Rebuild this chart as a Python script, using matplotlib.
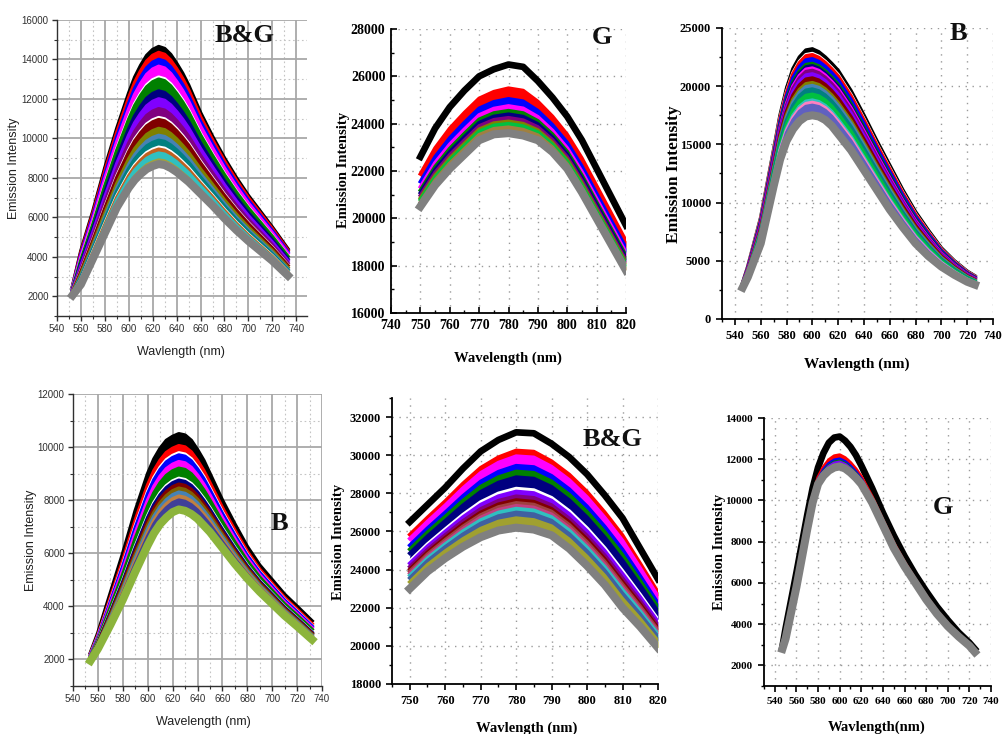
import numpy as np
import matplotlib
matplotlib.use("Agg")
import matplotlib.pyplot as plt

W, H = 1005, 734

# ---- panel 1 : B&G (top left) ----
wl1 = [553, 560, 570, 580, 590, 600, 605, 610, 615, 620, 625, 630, 635, 640, 645, 650, 660, 670, 680, 690, 700, 710, 720, 733]
top1 = [2500, 4300, 6300, 8500, 10500, 12300, 13100, 13700, 14200, 14500, 14650, 14550, 14250, 13800, 13300, 12700, 11300, 10100, 9000, 8000, 7100, 6300, 5500, 4400]
bot1 = [2050, 2600, 3900, 5200, 6500, 7500, 7900, 8200, 8450, 8600, 8700, 8650, 8500, 8300, 8050, 7800, 7200, 6600, 5950, 5350, 4800, 4300, 3800, 3050]
peaks1 = [14650, 14350, 14000, 13650, 13100, 13000, 12400, 12000, 11500, 11050, 10950, 10500, 10150, 9900, 9550, 9450, 9250, 8900, 8700]
colors1 = ['black', 'red', 'blue', 'magenta', 'white', 'green', 'navy', '#8000ff', '#800080', 'white',
           '#800000', '#808000', '#4682b4', '#008080', 'white', '#c06020', '#30c0c0', '#a0a040', 'gray']

# ---- panel 2 : G (top middle) ----
wl2 = [750, 755, 760, 765, 770, 775, 780, 785, 790, 795, 800, 805, 810, 815, 820]
top2 = [22600, 23800, 24700, 25400, 26000, 26300, 26500, 26400, 25800, 25100, 24300, 23300, 22100, 20900, 19700]
bot2 = [20500, 21400, 22100, 22700, 23300, 23550, 23600, 23500, 23300, 22800, 22100, 21100, 20000, 18900, 17800]
peaks2 = [26500, 25500, 25050, 24750, 24550, 24400, 24250, 24100, 24000, 23850, 23600]
colors2 = ['black', 'red', 'blue', 'magenta', '#008000', 'navy', '#800080', '#808000', '#00c040', '#a08040', 'gray']

# ---- panel 3 : B (top right) ----
wl3 = [546, 550, 560, 570, 575, 580, 585, 590, 595, 600, 605, 610, 615, 620, 630, 640, 650, 660, 670, 680, 690, 700, 710, 720, 726]
top3 = [3100, 4500, 8700, 14500, 17500, 19800, 21500, 22500, 23100, 23200, 22950, 22500, 21950, 21350, 19600, 17500, 15300, 13200, 11100, 9200, 7600, 6100, 5000, 4100, 3700]
bot3 = [2700, 3600, 6500, 11400, 13700, 15300, 16300, 17000, 17400, 17500, 17400, 17100, 16600, 15900, 14500, 12800, 11100, 9400, 7900, 6500, 5400, 4500, 3800, 3200, 2950]
peaks3 = [23200, 22800, 22700, 22350, 21950, 21750, 21550, 21350, 21050, 20700, 20300, 20050, 19750, 19300, 18800, 18600, 18350, 17500]
colors3 = ['black', 'white', 'red', 'blue', '#008000', 'navy', 'magenta', '#800080', '#8000ff', '#800000',
           '#808000', '#4682b4', '#008080', '#00c040', '#30c0c0', '#ff80c0', '#6060c0', 'gray']

# ---- panel 4 : B (bottom left) ----
wl4 = [554, 560, 570, 580, 590, 600, 605, 610, 615, 620, 625, 630, 635, 640, 645, 650, 660, 670, 680, 690, 700, 710, 720, 732]
top4 = [2250, 3000, 4500, 6000, 7600, 9000, 9550, 9950, 10250, 10400, 10500, 10450, 10250, 9900, 9500, 9000, 8000, 7100, 6250, 5550, 5000, 4450, 4000, 3450]
bot4 = [1950, 2400, 3300, 4250, 5300, 6300, 6750, 7100, 7350, 7550, 7650, 7600, 7480, 7300, 7050, 6800, 6200, 5600, 5050, 4550, 4100, 3650, 3250, 2750]
peaks4 = [10500, 10050, 9780, 9700, 9450, 9200, 8820, 8750, 8600, 8450, 8300, 8150, 8000, 7650]
colors4 = ['black', 'red', 'white', 'blue', 'magenta', 'green', 'white', 'navy', '#800000', '#806000',
           '#4682b4', '#c08040', '#404098', '#8cb43c']

# ---- panel 5 : B&G (bottom middle) ----
wl5 = [750, 755, 760, 765, 770, 775, 780, 785, 790, 795, 800, 805, 810, 815, 820]
top5 = [26500, 27400, 28300, 29300, 30200, 30800, 31200, 31150, 30600, 29900, 29000, 27900, 26700, 25100, 23500]
bot5 = [23000, 23900, 24600, 25200, 25700, 26050, 26200, 26100, 25800, 25100, 24200, 23200, 22000, 21000, 19900]
peaks5 = [31200, 30250, 29950, 29450, 29150, 28850, 28250, 28100, 27850, 27650, 27500, 27350, 27200, 27000, 26700, 26200]
colors5 = ['black', 'red', 'magenta', 'blue', '#008000', 'navy', 'white', '#8000ff', '#800080', '#800000',
           '#a04040', '#c04080', '#30c0c0', '#4060a0', '#a0a030', 'gray']

# ---- panel 6 : G (bottom right) ----
wl6 = [547, 550, 560, 570, 575, 580, 585, 590, 595, 600, 605, 610, 615, 620, 630, 640, 650, 660, 670, 680, 690, 700, 710, 720, 725]
top6 = [2900, 3800, 6500, 9300, 10600, 11600, 12300, 12800, 13050, 13100, 12900, 12600, 12200, 11700, 10600, 9400, 8300, 7300, 6400, 5600, 4850, 4200, 3600, 3100, 2800]
bot6 = [2800, 3300, 5800, 8600, 9900, 10800, 11200, 11450, 11600, 11650, 11550, 11350, 11100, 10800, 9900, 8800, 7700, 6800, 6000, 5200, 4500, 3900, 3400, 2950, 2650]
peaks6 = [13100, 12200, 12000, 11900, 11850, 11650]
colors6 = ['black', 'red', 'blue', '#008000', '#8000ff', 'gray']

panels = [
    dict(wl=wl1, top=top1, bot=bot1, peaks=peaks1, colors=colors1, rect=(57, 20, 307, 316), sep=False,
         xlim=(540, 749), ylim=(1100, 16000), xt=(540, 740, 20), yt=(2000, 16000, 2000), xm=10, ym=1000,
         style='sans', tag='B&G', tagpos=(245, 36), xl='Wavlength (nm)', xlpos=(181, 352), ylpos=(14, 168),
         ts=7, ls=9, tdir='out'),
    dict(wl=wl2, top=top2, bot=bot2, peaks=peaks2, colors=colors2, rect=(391, 29, 626, 313), sep=True,
         xlim=(740, 820), ylim=(16000, 28000), xt=(740, 820, 10), yt=(16000, 28000, 2000), xm=5, ym=1000,
         style='serif', tag='G', tagpos=(602, 38), xl='Wavelength (nm)', xlpos=(508, 358), ylpos=(343, 170),
         ts=10, ls=10.5, tdir='in'),
    dict(wl=wl3, top=top3, bot=bot3, peaks=peaks3, colors=colors3, rect=(722, 28, 993, 319), sep=False,
         xlim=(532, 740), ylim=(0, 25000), xt=(540, 740, 20), yt=(0, 25000, 5000), xm=10, ym=2500,
         style='serif', tag='B', tagpos=(958, 33), xl='Wavlength (nm)', xlpos=(857, 364), ylpos=(674, 174),
         ts=9, ls=12.5, tdir='out'),
    dict(wl=wl4, top=top4, bot=bot4, peaks=peaks4, colors=colors4, rect=(73, 394, 322, 686), sep=False,
         xlim=(540, 740), ylim=(1000, 12000), xt=(540, 740, 20), yt=(2000, 12000, 2000), xm=10, ym=1000,
         style='sans', tag='B', tagpos=(279, 523), xl='Wavelength (nm)', xlpos=(203, 722), ylpos=(31, 540),
         ts=7, ls=9, tdir='out'),
    dict(wl=wl5, top=top5, bot=bot5, peaks=peaks5, colors=colors5, rect=(392, 398, 658, 684), sep=True,
         xlim=(745, 820), ylim=(18000, 33000), xt=(750, 820, 10), yt=(18000, 32000, 2000), xm=5, ym=1000,
         style='serif', tag='B&G', tagpos=(613, 440), xl='Wavlength (nm)', xlpos=(527, 728), ylpos=(338, 542),
         ts=9, ls=10.5, tdir='out'),
    dict(wl=wl6, top=top6, bot=bot6, peaks=peaks6, colors=colors6, rect=(764, 418, 991, 686), sep=True,
         xlim=(531, 740), ylim=(1000, 14000), xt=(540, 740, 20), yt=(2000, 14000, 2000), xm=10, ym=1000,
         style='serif', tag='G', tagpos=(943, 507), xl='Wavlength(nm)', xlpos=(877, 727), ylpos=(719, 552),
         ts=8, ls=10.5, tdir='out'),
]

fig = plt.figure(figsize=(W / 100, H / 100), dpi=100)

for p in panels:
    l, t, r, b = p['rect']
    ax = fig.add_axes([l / W, 1 - b / H, (r - l) / W, (b - t) / H])
    sans = p['style'] == 'sans'
    fam = 'Liberation Sans' if sans else 'Liberation Serif'
    wt = 'normal' if sans else 'bold'

    # each curve is a blend of the top and bottom profiles, placed by its peak height;
    # the band under each curve down to the next one is filled in its colour
    wl = np.array(p['wl'])
    top = np.array(p['top'], float)
    bot = np.array(p['bot'], float)
    hi, lo = top.max(), bot.max()
    ys = [bot + (pk - lo) / (hi - lo) * (top - bot) for pk in p['peaks']]
    n = len(ys)
    for i, (y, c) in enumerate(zip(ys, p['colors'])):
        last = i == n - 1
        separate = p['sep'] and i == 0
        if not last and not separate:
            ax.fill_between(wl, ys[i + 1], y, color=c, lw=0, zorder=2 + 2 * i)
        lw = 5.8 if last else (4.8 if separate else 2.6)
        ax.plot(wl, y, color=c, lw=lw, zorder=3 + 2 * i, solid_joinstyle='round')

    ax.set_xlim(*p['xlim'])
    ax.set_ylim(*p['ylim'])
    x0, x1, dx = p['xt']
    y0, y1, dy = p['yt']
    ax.set_xticks(np.arange(x0, x1 + 1, dx))
    ax.set_yticks(np.arange(y0, y1 + 1, dy))
    ax.set_xticks(np.arange(p['xlim'][0] - p['xlim'][0] % p['xm'], p['xlim'][1] + 1, p['xm']), minor=True)
    ax.set_yticks(np.arange(p['ylim'][0] - p['ylim'][0] % p['ym'], p['ylim'][1] + 1, p['ym']), minor=True)

    for s in ['top', 'right']:
        ax.spines[s].set_visible(False)

    if sans:
        for s in ['left', 'bottom']:
            ax.spines[s].set_color('#303030')
            ax.spines[s].set_linewidth(1.0)
        ax.grid(True, which='major', color='#a8a8a8', lw=1.3, ls='-', zorder=0)
        ax.grid(True, which='minor', color='#c4c4c4', lw=0.8, ls=(0, (1.5, 2.5)), zorder=0)
        ax.tick_params(which='both', direction='out', colors='#303030', labelcolor='#303030')
        ax.tick_params(which='major', length=3.5, width=1.0, labelsize=p['ts'], pad=2.5)
        ax.tick_params(which='minor', length=2, width=0.8)
    else:
        for s in ['left', 'bottom']:
            ax.spines[s].set_color('black')
            ax.spines[s].set_linewidth(1.3)
        ax.grid(True, which='major', color='#9a9a9a', lw=1.0, ls=(0, (1, 4)), zorder=0)
        ax.tick_params(which='both', direction=p['tdir'], colors='black')
        ax.tick_params(which='major', length=4, width=1.2, labelsize=p['ts'], pad=4)
        ax.tick_params(which='minor', length=2.5, width=1.0)
    ax.set_axisbelow(True)

    for lab in ax.get_xticklabels() + ax.get_yticklabels():
        lab.set_fontfamily(fam)
        lab.set_fontweight(wt)

    tc = '#202020' if sans else 'black'
    fig.text(p['xlpos'][0] / W, 1 - p['xlpos'][1] / H, p['xl'], ha='center', va='center',
             family=fam, weight=wt, fontsize=p['ls'] if p['ls'] < 12 else 11, color=tc)
    fig.text(p['ylpos'][0] / W, 1 - p['ylpos'][1] / H, 'Emission Intensity', ha='center', va='center',
             rotation=90, family=fam, weight=wt, fontsize=p['ls'], color=tc)
    fig.text(p['tagpos'][0] / W, 1 - p['tagpos'][1] / H, p['tag'], ha='center', va='center',
             family='Liberation Serif', weight='bold', fontsize=19, color='#101010', zorder=50)

fig.savefig('out.png', dpi=100)
